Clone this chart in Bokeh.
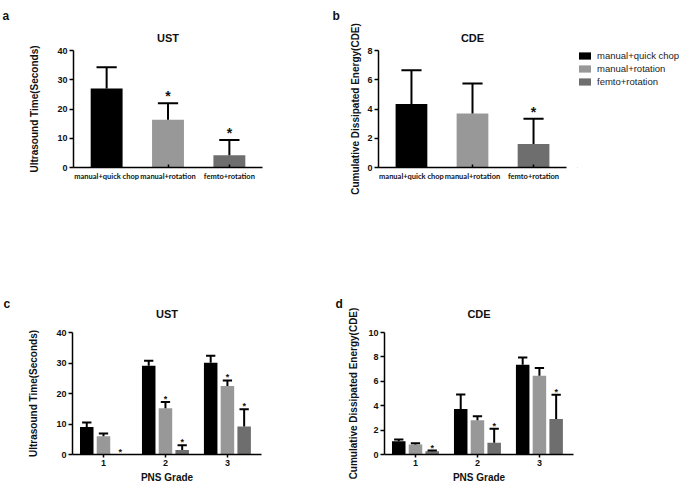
from bokeh.plotting import figure
from bokeh.layouts import column, row
from bokeh.models import Legend, LegendItem, FixedTicker, Range1d, Title
from bokeh.core.properties import value
from bokeh.embed import file_html
from bokeh.resources import INLINE

# ---------------- data ----------------
groups = ["manual+quick chop", "manual+rotation", "femto+rotation"]
colors = ["#000000", "#989898", "#6e6e6e"]

# panel a: UST (seconds)
ust_mean = [27.0, 16.3, 4.2]
ust_err = [7.3, 5.7, 5.2]
ust_star = [False, True, True]

# panel b: CDE
cde_mean = [4.35, 3.7, 1.6]
cde_err = [2.3, 2.05, 1.73]
cde_star = [False, False, True]

# panels c/d: by PNS grade
grades = ["1", "2", "3"]
ust_grade_mean = [
    [9.0, 29.1, 30.1],    # manual+quick chop
    [6.0, 15.2, 22.5],    # manual+rotation
    [0.0, 1.5, 9.2],      # femto+rotation
]
ust_grade_err = [
    [1.5, 1.6, 2.3],
    [0.85, 2.0, 1.8],
    [0.0, 1.5, 5.6],
]
ust_grade_star = [
    [False, False, False],
    [False, True, True],
    [True, True, True],
]
cde_grade_mean = [
    [1.08, 3.73, 7.35],
    [0.81, 2.81, 6.46],
    [0.27, 0.97, 2.92],
]
cde_grade_err = [
    [0.14, 1.19, 0.6],
    [0.11, 0.33, 0.62],
    [0.05, 1.14, 1.97],
]
cde_grade_star = [
    [False, False, False],
    [False, False, False],
    [True, True, True],
]

ust_ticks = [0, 10, 20, 30, 40]
cde_ticks = [0, 2, 4, 6, 8]
cde_grade_ticks = [0, 2, 4, 6, 8, 10]

FONT = "Liberation Sans"
INK = "#111111"


def make_fig(w, h, left, right, top, bottom, ymax, xr):
    p = figure(width=w, height=h, output_backend="svg", toolbar_location=None,
               min_border_left=left, min_border_right=right,
               min_border_top=top, min_border_bottom=bottom,
               x_range=Range1d(*xr), y_range=Range1d(0, ymax))
    p.outline_line_color = None
    p.xgrid.visible = False
    p.ygrid.visible = False
    p.background_fill_color = "white"
    p.border_fill_color = "white"
    return p


def style_y(p, label, ticks, standoff):
    ax = p.yaxis[0]
    ax.axis_label = label
    ax.ticker = FixedTicker(ticks=ticks)
    ax.axis_label_text_font = FONT
    ax.axis_label_text_font_style = "bold"
    ax.axis_label_text_font_size = "10px"
    ax.axis_label_text_color = INK
    ax.axis_label_standoff = standoff
    ax.major_label_text_font = FONT
    ax.major_label_text_font_style = "bold"
    ax.major_label_text_font_size = "9px"
    ax.major_label_text_color = INK
    ax.major_label_standoff = 2
    ax.major_tick_out = 4
    ax.major_tick_in = 0
    ax.minor_tick_out = 0
    ax.minor_tick_in = 0
    ax.axis_line_width = 1.5
    ax.major_tick_line_width = 1.5


def style_title(p, text, letter_text, letter_offset, title_standoff, letter_standoff):
    # outermost line: panel letter
    p.title.text = letter_text
    p.title.align = "left"
    p.title.offset = letter_offset
    try:
        p.title.standoff = letter_standoff
    except Exception:
        p.title.standoff = 0
    p.title.text_font = FONT
    p.title.text_font_style = "bold"
    p.title.text_font_size = "12px"
    p.title.text_color = INK
    # line next to the frame: chart title
    p.add_layout(Title(text=text, align="center", standoff=title_standoff,
                       text_font=FONT, text_font_style="bold", text_font_size="11px",
                       text_color=INK), "above")


def group_panel(p, means, errs, stars, barw, capw, star_size, star_off, lw):
    xs = [i + 1 for i in range(len(means))]
    r = p.vbar(x=xs, top=means, width=barw, bottom=0, fill_color=colors, line_color=None)
    tops = [m + e for m, e in zip(means, errs)]
    p.segment(x0=xs, y0=means, x1=xs, y1=tops, line_color="black", line_width=lw)
    p.segment(x0=[x - capw / 2 for x in xs], y0=tops, x1=[x + capw / 2 for x in xs], y1=tops,
              line_color="black", line_width=lw)
    sx = [x for x, s in zip(xs, stars) if s]
    sy = [t for t, s in zip(tops, stars) if s]
    p.text(x=sx, y=sy, text=["*"] * len(sx), text_align="center", text_baseline="alphabetic",
           y_offset=star_off, text_font=value(FONT), text_font_style="bold",
           text_font_size=star_size, text_color=INK)
    return r


def style_x_groups(p):
    ax = p.xaxis[0]
    ax.ticker = FixedTicker(ticks=[1, 2, 3])
    ax.major_label_overrides = {i + 1: g for i, g in enumerate(groups)}
    ax.major_label_text_font = "Lato"
    ax.major_label_text_font_style = "bold"
    ax.major_label_text_font_size = "7.5px"
    ax.major_label_text_color = INK
    ax.major_label_standoff = 4
    ax.major_tick_out = 0
    ax.major_tick_in = 3
    ax.minor_tick_out = 0
    ax.minor_tick_in = 0
    ax.axis_line_width = 1.5
    ax.major_tick_line_width = 1.5


def grade_panel(p, means, errs, stars, star_off):
    offs = [-0.27, 0.0, 0.27]
    barw = 0.218
    capw = 0.15
    for s in range(3):
        xs = [g + 1 + offs[s] for g in range(len(grades))]
        p.vbar(x=xs, top=means[s], width=barw, bottom=0, fill_color=colors[s], line_color=None)
    for s in range(3):
        xs = [g + 1 + offs[s] for g in range(len(grades))]
        xe = [x for x, e in zip(xs, errs[s]) if e > 0]
        me = [m for m, e in zip(means[s], errs[s]) if e > 0]
        te = [m + e for m, e in zip(means[s], errs[s]) if e > 0]
        p.segment(x0=xe, y0=me, x1=xe, y1=te, line_color="black", line_width=2)
        p.segment(x0=[x - capw / 2 for x in xe], y0=te, x1=[x + capw / 2 for x in xe], y1=te,
                  line_color="black", line_width=2)
        sx = [x for x, st in zip(xs, stars[s]) if st]
        sy = [m + e for m, e, st in zip(means[s], errs[s], stars[s]) if st]
        p.text(x=sx, y=sy, text=["*"] * len(sx), text_align="center", text_baseline="alphabetic",
               y_offset=star_off, text_font=value(FONT), text_font_style="bold",
               text_font_size="9px", text_color=INK)
    ax = p.xaxis[0]
    ax.ticker = FixedTicker(ticks=[1, 2, 3])
    ax.major_label_overrides = {i + 1: g for i, g in enumerate(grades)}
    ax.axis_label = "PNS Grade"
    ax.axis_label_text_font = FONT
    ax.axis_label_text_font_style = "bold"
    ax.axis_label_text_font_size = "10px"
    ax.axis_label_text_color = INK
    ax.axis_label_standoff = 3
    ax.major_label_text_font = FONT
    ax.major_label_text_font_style = "bold"
    ax.major_label_text_font_size = "9px"
    ax.major_label_text_color = INK
    ax.major_label_standoff = 2
    ax.major_tick_out = 3
    ax.major_tick_in = 0
    ax.minor_tick_out = 0
    ax.minor_tick_in = 0
    ax.axis_line_width = 1.5
    ax.major_tick_line_width = 1.5


# ---------------- panel a ----------------
pa = make_fig(300, 255, 73, 38, 45, 88, 40, (0.46, 3.54))
group_panel(pa, ust_mean, ust_err, ust_star, 0.52, 0.33, "14px", -7, 2)
style_y(pa, "Ultrasound Time(Seconds)", ust_ticks, 14)
style_x_groups(pa)
style_title(pa, "UST", "a", -71, 14, 0)

# ---------------- panel b ----------------
pb = make_fig(274, 255, 78, 8, 45, 88, 8, (0.46, 3.54))
group_panel(pb, cde_mean, cde_err, cde_star, 0.52, 0.33, "14px", -7, 2)
style_y(pb, "Cumulative Dissipated Energy(CDE)", cde_ticks, 3)
style_x_groups(pb)
style_title(pb, "CDE", "b", -46, 14, 0)

# ---------------- legend (own small canvas beside panel b) ----------------
# swatch renderers carry the panel-b values but lie outside this canvas' visible ranges
pl = figure(width=111, height=255, output_backend="svg", toolbar_location=None,
            min_border_left=3, min_border_top=50, min_border_right=0, min_border_bottom=0,
            title_location=None, x_axis_location=None, y_axis_location=None,
            x_range=Range1d(10, 11), y_range=Range1d(100, 101))
pl.outline_line_color = None
pl.xgrid.visible = False
pl.ygrid.visible = False
proxies = [pl.vbar(x=[i + 1], top=[cde_mean[i]], width=0.5, fill_color=c, line_color=None)
           for i, c in enumerate(colors)]
legend = Legend(items=[LegendItem(label=g, renderers=[r]) for g, r in zip(groups, proxies)],
                location="top_left", orientation="vertical",
                glyph_width=15, glyph_height=9, label_standoff=5, spacing=2,
                padding=0, margin=0, border_line_color=None, background_fill_alpha=0,
                label_text_font=FONT, label_text_font_size="9.5px", label_text_color="#222222",
                label_height=9)
pl.add_layout(legend, "center")

# ---------------- panel c ----------------
pc = make_fig(300, 230, 72, 39, 77, 31, 40, (0.5, 3.55))
grade_panel(pc, ust_grade_mean, ust_grade_err, ust_grade_star, -3)
style_y(pc, "Ultrasound Time(Seconds)", ust_ticks, 14)
style_title(pc, "UST", "c", -69, 26, -36)

# ---------------- panel d ----------------
pd_ = make_fig(385, 230, 84, 112, 77, 31, 10, (0.5, 3.55))
grade_panel(pd_, cde_grade_mean, cde_grade_err, cde_grade_star, -3)
style_y(pd_, "Cumulative Dissipated Energy(CDE)", cde_grade_ticks, 6)
style_title(pd_, "CDE", "d", -49, 26, -36)

layout = column(row(pa, pb, pl, spacing=0), row(pc, pd_, spacing=0), spacing=0)
open("out.html", "w").write(file_html(layout, INLINE))
